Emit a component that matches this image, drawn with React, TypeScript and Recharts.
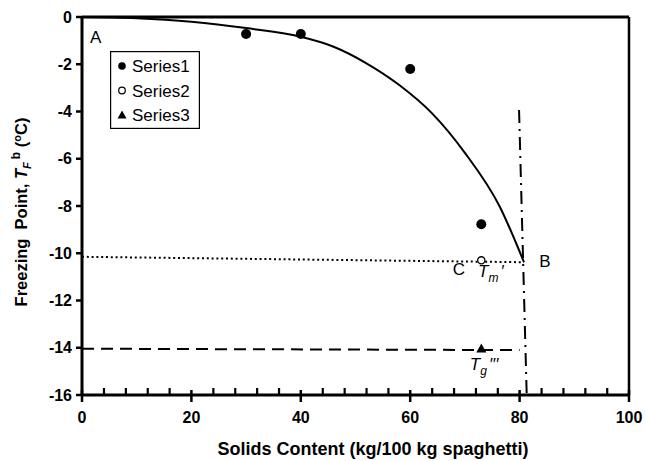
import React from 'react';
import { ComposedChart, Line, Scatter, XAxis, YAxis, ReferenceLine, ReferenceDot, Legend } from 'recharts';

const curveX = [0, 10, 20, 30, 40, 46, 52, 58, 64, 70, 76.4, 80.8];
const curveY = [0, -0.05, -0.2, -0.47, -0.84, -1.26, -1.96, -2.88, -4.08, -5.75, -8.04, -10.38];
const series1X = [30, 40, 60, 73];
const series1Y = [-0.72, -0.72, -2.2, -8.77];
const series2X = [73];
const series2Y = [-10.3];
const series3X = [73];
const series3Y = [-14.03];
const tmLineX = [0, 80.8];
const tmLineY = [-10.15, -10.38];
const tgLineX = [0, 80];
const tgLineY = [-14.04, -14.1];
const vLineX = [79.9, 81.3];
const vLineY = [-3.94, -16];
const xTicks = [0, 20, 40, 60, 80, 100];
const xMinorTicks = [4, 8, 12, 16, 24, 28, 32, 36, 44, 48, 52, 56, 64, 68, 72, 76, 84, 88, 92, 96];
const yTicks = [0, -2, -4, -6, -8, -10, -12, -14, -16];
const legendNames = ['Series1', 'Series2', 'Series3'];
const annotations = [
  { id: 'A', x: 1.46, y: -1.09 },
  { id: 'B', x: 83.6, y: -10.58 },
  { id: 'C', x: 67.8, y: -10.92 },
  { id: 'Tm', x: 72.4, y: -11.0 },
  { id: 'Tg', x: 70.9, y: -14.94 },
];

const zip = (xs: number[], ys: number[]) => xs.map((x, i) => ({ x, y: ys[i] }));

const FONT = 'Arial, "Liberation Sans", sans-serif';
const Y_MIN = -16;

const XTick = (props: any) => {
  const { x, y, payload } = props;
  return (
    <g>
      <line x1={x} x2={x} y1={y - 5} y2={y + 7} stroke="#000" strokeWidth={2.5} />
      <text x={x} y={y + 28} textAnchor="middle" fontFamily={FONT} fontWeight="bold" fontSize={16} fill="#000">
        {payload.value}
      </text>
    </g>
  );
};

const MinorTick = (props: any) => {
  const { cx, cy } = props;
  return <rect x={cx - 1} y={cy - 7} width={2.2} height={7} fill="#000" />;
};

const FilledCircle = (props: any) => <circle cx={props.cx} cy={props.cy} r={5} fill="#000" />;
const OpenCircle = (props: any) => <circle cx={props.cx} cy={props.cy} r={3.6} fill="#fff" stroke="#000" strokeWidth={1.3} />;
const Triangle = (props: any) => {
  const { cx, cy } = props;
  return <polygon points={`${cx - 5},${cy + 4} ${cx + 5},${cy + 4} ${cx},${cy - 5}`} fill="#000" />;
};

const AnnShape = (id: string) => (props: any) => {
  const { cx, cy } = props;
  const common = { fontFamily: FONT, fontSize: 17, fill: '#000' } as any;
  if (id === 'Tm') {
    return (
      <text x={cx} y={cy} {...common}>
        <tspan fontStyle="italic">T</tspan>
        <tspan fontStyle="italic" fontSize={12} dy={5}>m</tspan>
        <tspan fontStyle="italic" dy={-5} dx={2}>′</tspan>
      </text>
    );
  }
  if (id === 'Tg') {
    return (
      <text x={cx} y={cy} {...common}>
        <tspan fontStyle="italic">T</tspan>
        <tspan fontStyle="italic" fontSize={12} dy={5}>g</tspan>
        <tspan fontStyle="italic" dy={-5} dx={2}>′′′</tspan>
      </text>
    );
  }
  return (
    <text x={cx} y={cy} {...common}>
      {id}
    </text>
  );
};

const LegendBox = () => {
  const markers = [
    <circle key="a" cx={12} cy={15} r={3.8} fill="#000" />,
    <circle key="b" cx={12} cy={39.5} r={3.3} fill="#fff" stroke="#000" strokeWidth={1.2} />,
    <polygon key="c" points="7.5,67.5 16.5,67.5 12,59.5" fill="#000" />,
  ];
  return (
    <svg width={90} height={78} style={{ display: 'block' }}>
      <rect x={0.6} y={0.6} width={88.8} height={76.8} fill="#fff" stroke="#000" strokeWidth={1.2} />
      {legendNames.map((n, i) => (
        <g key={n}>
          {markers[i]}
          <text x={22} y={21 + i * 24.5} fontFamily={FONT} fontSize={17} fill="#000">
            {n}
          </text>
        </g>
      ))}
    </svg>
  );
};

export default function App() {
  return (
    <div style={{ position: 'absolute', left: 0, top: 0, width: 646, height: 461, background: '#fff' }}>
      <ComposedChart width={646} height={461} margin={{ top: 17, right: 17, left: 0, bottom: 0 }}>
        <XAxis
          type="number"
          dataKey="x"
          domain={[0, 100]}
          ticks={xTicks}
          interval={0}
          tickSize={0}
          tickMargin={0}
          tickLine={false}
          tick={(p: any) => <XTick {...p} />}
          height={66}
          allowDataOverflow
          axisLine={{ stroke: '#000', strokeWidth: 3 }}
          label={{
            content: () => (
              <text x={373} y={455} textAnchor="middle" fontFamily={FONT} fontWeight="bold" fontSize={18} fill="#000">
                Solids Content (kg/100 kg spaghetti)
              </text>
            ),
          }}
        />
        <YAxis
          type="number"
          dataKey="y"
          domain={[-16, 0]}
          ticks={yTicks}
          interval={0}
          width={82}
          tickSize={6}
          tickMargin={4}
          allowDataOverflow
          axisLine={{ stroke: '#000', strokeWidth: 3 }}
          tickLine={{ stroke: '#000', strokeWidth: 2.5 }}
          tick={{ fill: '#000', fontFamily: FONT, fontWeight: 'bold', fontSize: 16 }}
          label={{
            content: () => (
              <text
                x={27}
                y={212}
                transform="rotate(-90 27 212)"
                textAnchor="middle"
                fontFamily={FONT}
                fontWeight="bold"
                fontSize={16.5}
                fill="#000"
                style={{ whiteSpace: 'pre' }}
              >
                <tspan>{'Freezing\u00a0\u00a0Point, '}</tspan>
                <tspan fontStyle="italic">T</tspan>
                <tspan fontStyle="italic" fontSize={11} dy={4}>F</tspan>
                <tspan fontSize={12} dy={-11} dx={3}>b</tspan>
                <tspan dy={7}>{'\u00a0('}</tspan>
                <tspan fontSize={11} dy={-6}>o</tspan>
                <tspan dy={6}>C)</tspan>
              </text>
            ),
          }}
        />
        <ReferenceLine y={0} stroke="#000" strokeWidth={3} />
        <ReferenceLine x={100} stroke="#000" strokeWidth={2.5} />
        <Line data={zip(curveX, curveY)} dataKey="y" type="monotone" stroke="#000" strokeWidth={2} dot={false} isAnimationActive={false} legendType="none" />
        <Line data={zip(tmLineX, tmLineY)} dataKey="y" type="linear" stroke="#000" strokeWidth={2} strokeDasharray="2 2.8" dot={false} isAnimationActive={false} legendType="none" />
        <Line data={zip(tgLineX, tgLineY)} dataKey="y" type="linear" stroke="#000" strokeWidth={2} strokeDasharray="12 7" dot={false} isAnimationActive={false} legendType="none" />
        <Line data={zip(vLineX, vLineY)} dataKey="y" type="linear" stroke="#000" strokeWidth={2} strokeDasharray="13 6 2 6" dot={false} isAnimationActive={false} legendType="none" />
        <Scatter name="Series1" data={zip(series1X, series1Y)} dataKey="y" shape={FilledCircle} isAnimationActive={false} />
        <Scatter name="Series2" data={zip(series2X, series2Y)} dataKey="y" shape={OpenCircle} isAnimationActive={false} />
        <Scatter name="Series3" data={zip(series3X, series3Y)} dataKey="y" shape={Triangle} isAnimationActive={false} />
        <Scatter
          name="minor"
          data={xMinorTicks.map((v) => ({ x: v, y: Y_MIN }))}
          dataKey="y"
          shape={MinorTick}
          legendType="none"
          isAnimationActive={false}
        />
        {annotations.map((a) => (
          <ReferenceDot key={a.id} x={a.x} y={a.y} r={0} shape={AnnShape(a.id)} />
        ))}
        <Legend
          layout="horizontal"
          verticalAlign="middle"
          align="center"
          content={() => <LegendBox />}
          wrapperStyle={{ position: 'absolute', left: 110, top: 51, width: 90, height: 78 }}
        />
      </ComposedChart>
    </div>
  );
}
